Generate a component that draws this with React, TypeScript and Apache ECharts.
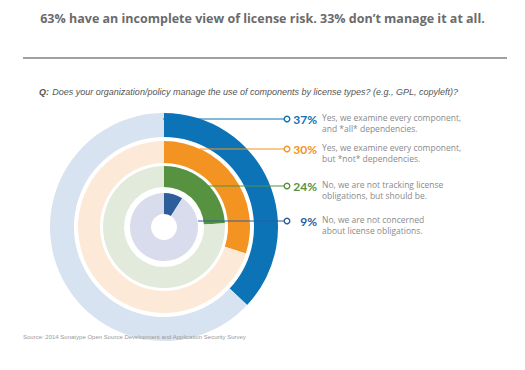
import React, { useEffect, useRef } from "react";
import * as echarts from "echarts";

const title = "63% have an incomplete view of license risk. 33% don\u2019t manage it at all.";
const question = "Does your organization/policy manage the use of components by license types? (e.g., GPL, copyleft)?";
const source = "Source: 2014 Sonatype Open Source Development and Application Security Survey";

const answers = [
  ["Yes, we examine every component,", "and *all* dependencies."],
  ["Yes, we examine every component,", "but *not* dependencies."],
  ["No, we are not tracking license", "obligations, but should be."],
  ["No, we are not concerned", "about license obligations."],
];
const values = [37, 30, 24, 9];
const colors = ["#0b73b6", "#f39322", "#56923f", "#2e5d9b"];
const tracks = ["#d7e3f0", "#fde9d7", "#e2eadb", "#d9dcec"];

// layout (pixels)
const CX = 164;
const CY = 227;
const radii: [number, number][] = [
  [90, 114],
  [64, 86],
  [40, 61],
  [13, 34],
];
const rowY = [119, 149, 186, 221];
const lineStartX = [163, 200, 208, 198];
const dotX = 287;

export default function App() {
  const ref = useRef<HTMLDivElement>(null);
  useEffect(() => {
    if (!ref.current) return;
    const chart = echarts.init(ref.current, undefined, { renderer: "svg" });
    const series: any[] = values.map((v, i) => ({
      type: "pie",
      center: [CX, CY],
      radius: radii[i],
      startAngle: 90,
      clockwise: true,
      silent: true,
      z: 1,
      label: { show: false },
      labelLine: { show: false },
      emphasis: { disabled: true },
      data: [
        { value: v, itemStyle: { color: colors[i] } },
        { value: 100 - v, itemStyle: { color: tracks[i] } },
      ],
    }));

    const graphics: any[] = [
      {
        type: "text",
        left: "center",
        top: 12,
        z: 10,
        style: {
          text: title,
          font: "bold 12.5px 'Open Sans'",
          fill: "#6b6b6b",
        },
      },
      {
        type: "line",
        z: 10,
        shape: { x1: 23, y1: 58, x2: 507, y2: 58 },
        style: { stroke: "#a0a0a0", lineWidth: 2 },
      },
      {
        type: "text",
        x: 39,
        y: 86,
        z: 10,
        style: {
          rich: {
            q: { font: "italic bold 9px 'Liberation Sans'", fill: "#555" },
            t: { font: "italic 9px 'Liberation Sans'", fill: "#555" },
          },
          text: "{q|Q:} {t|" + question + "}",
        },
      },
      {
        type: "text",
        x: 23,
        y: 334,
        z: 100,
        zlevel: 1,
        style: { text: source, font: "6px 'Liberation Sans'", fill: "#999" },
      },
    ];

    values.forEach((v, i) => {
      graphics.push({
        type: "line",
        z: 10,
        shape: { x1: lineStartX[i], y1: rowY[i], x2: dotX - 3, y2: rowY[i] },
        style: { stroke: colors[i], lineWidth: 1.2 },
      });
      graphics.push({
        type: "circle",
        z: 10,
        shape: { cx: dotX, cy: rowY[i], r: 2.8 },
        style: { stroke: colors[i], lineWidth: 1.4, fill: "#fff" },
      });
      graphics.push({
        type: "text",
        z: 10,
        x: 317,
        y: rowY[i],
        style: {
          text: v + "%",
          font: "bold 12px Lato",
          fill: colors[i],
          align: "right",
          verticalAlign: "middle",
        },
      });
      answers[i].forEach((line, j) => {
        graphics.push({
          type: "text",
          z: 10,
          x: 322,
          y: rowY[i] - 6 + j * 10.5,
          style: {
            text: line,
            font: "8.5px 'Open Sans'",
            fill: "#8a8a8a",
          },
        });
      });
    });

    chart.setOption({
      animation: false,
      backgroundColor: "#ffffff",
      series,
      graphic: graphics,
    });
    return () => chart.dispose();
  }, []);
  return (
    <div
      ref={ref}
      style={{ position: "absolute", left: 0, top: 0, width: 525, height: 370 }}
    />
  );
}
